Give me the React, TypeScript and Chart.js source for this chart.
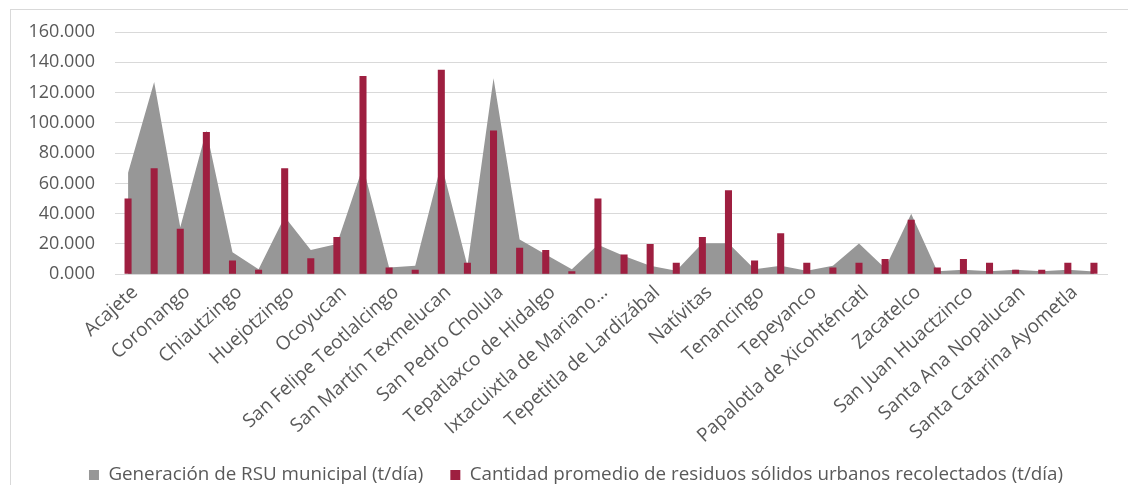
import { useEffect, useRef } from "react";
import { Chart, registerables } from "chart.js";

Chart.register(...registerables);

const categories = [
  "Acajete",
  "Amozoc",
  "Coronango",
  "Cuautlancingo",
  "Chiautzingo",
  "Domingo Arenas",
  "Huejotzingo",
  "Juan C. Bonilla",
  "Ocoyucan",
  "San Andrés Cholula",
  "San Felipe Teotlalcingo",
  "San Gregorio Atzompa",
  "San Martín Texmelucan",
  "San Miguel Xoxtla",
  "San Pedro Cholula",
  "San Salvador el Verde",
  "Tepatlaxco de Hidalgo",
  "Tlaltenango",
  "Ixtacuixtla de Mariano Matamoros",
  "Mazatecochco de José María Morelos",
  "Tepetitla de Lardizábal",
  "Acuamanala de Miguel Hidalgo",
  "Natívitas",
  "San Pablo del Monte",
  "Tenancingo",
  "Teolocholco",
  "Tepeyanco",
  "Tetlatlahuca",
  "Papalotla de Xicohténcatl",
  "Xicohtzinco",
  "Zacatelco",
  "San Jerónimo Zacualpan",
  "San Juan Huactzinco",
  "San Lorenzo Axocomanitla",
  "Santa Ana Nopalucan",
  "Santa Apolonia Teacalco",
  "Santa Catarina Ayometla",
  "Santa Cruz Quilehtla",
];

const generacionRSU = [
  67, 127, 31, 95, 14.5, 3.3, 38, 16, 20, 71, 4.5, 5.6, 73, 5.5, 129.5, 23, 13, 3.3,
  19.5, 12, 5.5, 2.2, 20.5, 20.5, 3.3, 5.5, 2.2, 5.6, 20.2, 4, 40, 2, 3, 2, 3, 2, 3, 1.8,
];

const recolectadoRSU = [
  50, 70, 30, 94, 9, 3, 70, 10.5, 24.5, 131, 4.5, 3, 135, 7.5, 95, 17.5, 16, 2,
  50, 13, 20, 7.5, 24.5, 55.5, 9, 27, 7.5, 4.5, 7.5, 10, 36, 4.5, 10, 7.5, 3, 3, 7.5, 7.5,
];

const seriesNames = [
  "Generación de RSU municipal (t/día)",
  "Cantidad promedio de residuos sólidos urbanos recolectados (t/día)",
];

const yMin = 0;
const yMax = 160;
const yStep = 20;

const GRAY = "#979797";
const CRIMSON = "#9E1F40";
const TEXT = "#595959";
const GRID = "#D9D9D9";
const FONT = "'Open Sans'";

function shortLabel(s: string): string {
  return s.length > 28 ? s.slice(0, 22) + "…" : s;
}

const legendShift = {
  id: "legendShift",
  afterLayout(chart: any) {
    const lg = chart.legend;
    if (lg) {
      lg.left = 27;
      lg.right = 1125;
      lg.top = 438.5;
      lg.bottom = lg.top + lg.height;
    }
  },
};

export default function App() {
  const ref = useRef<HTMLCanvasElement | null>(null);

  useEffect(() => {
    if (!ref.current) return;
    const chart = new Chart(ref.current, {
      type: "bar",
      data: {
        labels: categories,
        datasets: [
          {
            type: "line",
            label: seriesNames[0],
            data: generacionRSU,
            backgroundColor: GRAY,
            borderColor: GRAY,
            borderWidth: 0,
            pointRadius: 0,
            fill: "origin",
            tension: 0,
            order: 2,
          } as any,
          {
            type: "bar",
            label: seriesNames[1],
            data: recolectadoRSU,
            backgroundColor: CRIMSON,
            borderWidth: 0,
            barPercentage: 0.27,
            categoryPercentage: 1,
            order: 1,
          },
        ],
      },
      options: {
        responsive: false,
        animation: false,
        layout: { padding: { top: 32, left: 0, right: 21, bottom: 0 } },
        plugins: {
          tooltip: { enabled: false },
          legend: {
            position: "bottom",
            labels: {
              boxWidth: 10,
              boxHeight: 10,
              padding: 27,
              color: TEXT,
              font: { family: FONT, size: 18.8 },
              sort: (a: any, b: any) => a.datasetIndex - b.datasetIndex,
            },
          },
        },
        scales: {
          x: {
            grid: { display: false, drawTicks: false },
            border: { display: true, color: GRID, width: 1 },
            ticks: {
              autoSkip: false,
              maxRotation: 42,
              minRotation: 42,
              padding: 7,
              labelOffset: 7,
              color: TEXT,
              font: { family: FONT, size: 19 },
              callback: (_v: any, i: number) => (i % 2 === 0 ? shortLabel(categories[i]) : ""),
            },
            afterFit: (scale: any) => {
              scale.height = 181;
            },
          },
          y: {
            min: yMin,
            max: yMax,
            grid: { color: GRID, lineWidth: 1, drawTicks: false },
            border: { display: false },
            ticks: {
              stepSize: yStep,
              padding: 20,
              color: TEXT,
              font: { family: FONT, size: 18 },
              callback: (v: any) => Number(v).toFixed(3),
            },
            afterFit: (scale: any) => {
              scale.width = 115;
            },
          },
        },
      },
      plugins: [legendShift],
    });
    return () => chart.destroy();
  }, []);

  return (
    <div
      style={{
        position: "fixed",
        left: 0,
        top: 0,
        width: 1128,
        height: 485,
        overflow: "hidden",
        background: "#FFFFFF",
      }}
    >
      <div
        style={{
          position: "absolute",
          left: 10,
          top: 9,
          width: 1300,
          height: 700,
          border: "1px solid " + GRID,
        }}
      />
      <canvas ref={ref} width={1128} height={511} style={{ position: "absolute", left: 0, top: 0 }} />
    </div>
  );
}
